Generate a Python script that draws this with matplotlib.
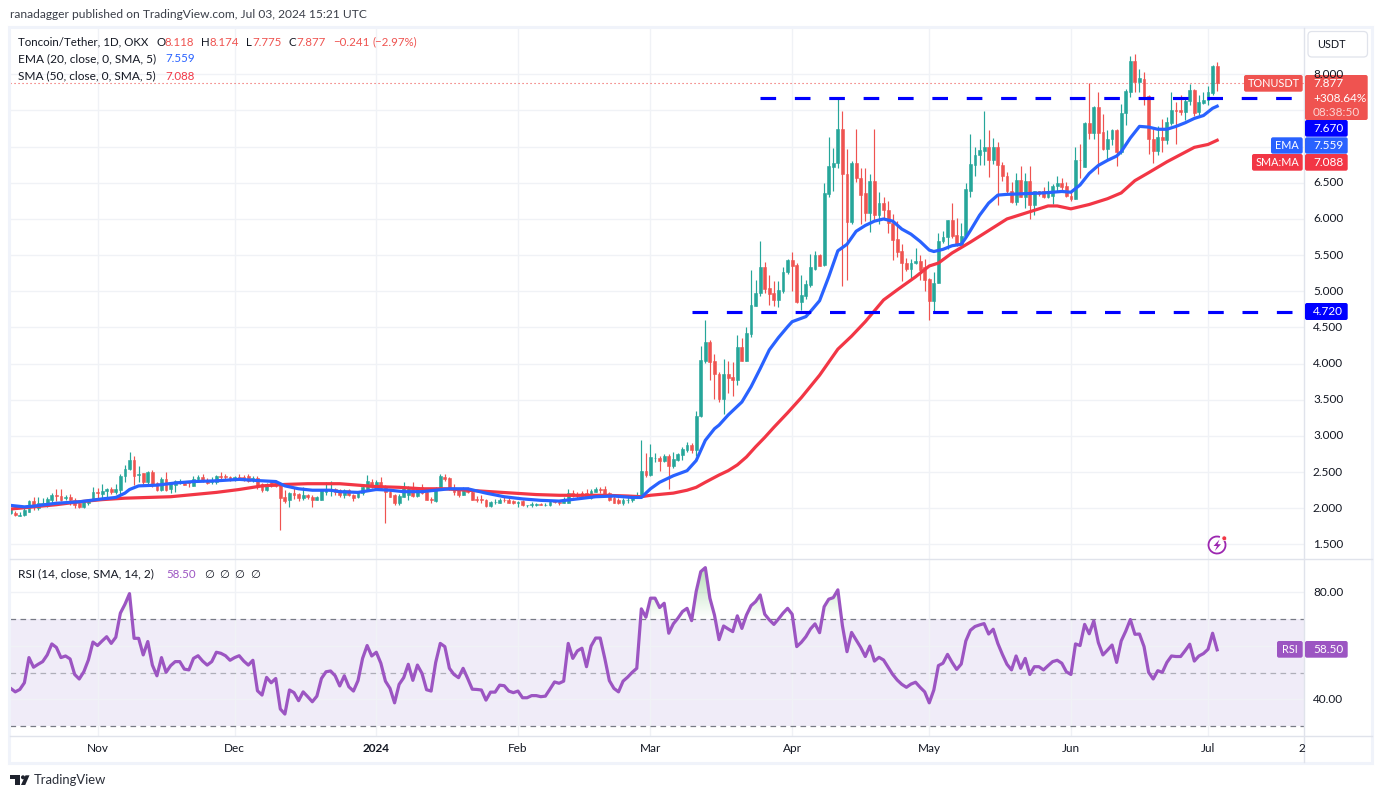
import numpy as np
import pandas as pd
import matplotlib
matplotlib.use("Agg")
import matplotlib.pyplot as plt
from matplotlib.patches import Rectangle, FancyBboxPatch, Polygon, Circle, Arc
from matplotlib.path import Path

plt.rcParams['font.family'] = ['Lato', 'DejaVu Sans']

start_date = "2023-10-13"

opens = [
1.94,1.94,1.90,1.91,1.95,2.10,2.00,2.06,2.06,2.12,
2.19,2.17,2.14,2.15,2.12,2.07,2.02,2.07,2.12,2.23,
2.20,2.24,2.26,2.23,2.25,2.44,2.54,2.67,2.46,2.49,
2.36,2.50,2.35,2.25,2.40,2.26,2.32,2.37,2.37,2.36,
2.31,2.40,2.43,2.39,2.36,2.36,2.45,2.44,2.43,2.41,
2.43,2.43,2.44,2.40,2.42,2.33,2.25,2.37,2.37,2.32,
2.16,2.11,2.21,2.20,2.14,2.18,2.16,2.12,2.12,2.22,
2.24,2.26,2.25,2.19,2.25,2.19,2.15,2.21,2.26,2.37,
2.31,2.36,2.30,2.23,2.18,2.07,2.16,2.19,2.29,2.17,
2.29,2.23,2.13,2.10,2.28,2.43,2.42,2.28,2.25,2.19,
2.28,2.23,2.13,2.13,2.12,2.03,2.09,2.08,2.12,2.12,
2.10,2.08,2.10,2.04,2.05,2.05,2.06,2.04,2.04,2.10,
2.09,2.08,2.08,2.21,2.20,2.21,2.21,2.14,2.23,2.26,
2.27,2.21,2.14,2.11,2.07,2.12,2.12,2.15,2.15,2.51,
2.46,2.69,2.70,2.66,2.73,2.58,2.67,2.74,2.81,2.87,
2.80,3.27,4.04,4.30,4.03,3.86,3.51,3.86,3.82,3.77,
4.23,4.04,4.41,4.79,4.97,5.34,5.05,4.97,4.88,5.01,
5.26,5.43,5.36,4.85,4.94,5.09,5.31,5.50,5.36,6.35,
6.72,6.77,7.25,6.62,5.96,6.78,6.57,6.36,6.08,6.52,
6.06,6.22,6.13,5.94,5.72,5.56,5.39,5.31,5.39,5.42,
5.34,5.17,4.87,5.12,5.69,5.75,5.98,5.78,5.65,5.76,
6.39,6.75,6.88,6.94,7.00,6.82,6.99,6.75,6.60,6.39,
6.24,6.54,6.30,6.53,6.19,6.38,6.38,6.30,6.32,6.46,
6.50,6.45,6.32,6.27,6.82,6.72,7.32,7.19,7.55,7.20,
6.97,7.10,7.23,6.93,7.46,7.76,8.18,7.90,7.94,7.70,
7.11,6.94,7.14,7.09,7.33,7.50,7.50,7.48,7.63,7.78,
7.48,7.61,7.64,7.74,8.118]
highs = [
2.00,1.96,1.95,2.03,2.11,2.16,2.16,2.14,2.16,2.21,
2.26,2.27,2.18,2.20,2.14,2.08,2.10,2.13,2.30,2.28,
2.33,2.28,2.29,2.33,2.48,2.60,2.78,2.72,2.58,2.49,
2.52,2.53,2.37,2.43,2.50,2.36,2.39,2.40,2.38,2.38,
2.44,2.46,2.47,2.42,2.43,2.46,2.50,2.47,2.44,2.45,
2.48,2.46,2.48,2.45,2.44,2.35,2.35,2.38,2.39,2.36,
2.25,2.22,2.28,2.21,2.30,2.20,2.18,2.17,2.27,2.37,
2.38,2.28,2.27,2.27,2.26,2.20,2.22,2.33,2.46,2.40,
2.39,2.43,2.32,2.26,2.20,2.20,2.36,2.31,2.36,2.30,
2.34,2.24,2.16,2.30,2.47,2.47,2.43,2.34,2.27,2.29,
2.29,2.24,2.17,2.18,2.13,2.10,2.13,2.14,2.16,2.14,
2.12,2.10,2.12,2.05,2.09,2.08,2.08,2.07,2.11,2.12,
2.10,2.15,2.26,2.25,2.23,2.24,2.27,2.26,2.29,2.30,
2.31,2.22,2.17,2.14,2.14,2.16,2.17,2.22,2.95,2.76,
2.89,2.76,2.73,2.75,2.75,2.78,2.76,2.85,2.91,2.90,
3.35,4.24,4.60,4.33,4.14,3.88,4.07,4.04,4.02,4.39,
4.35,4.50,5.30,5.15,5.69,5.41,5.22,5.14,5.14,5.33,
5.45,5.55,5.39,5.23,5.16,5.51,5.56,5.51,6.50,7.14,
6.98,7.68,7.49,6.97,6.80,7.25,6.70,6.70,6.62,7.25,
6.37,6.31,6.25,6.07,5.97,5.65,5.46,5.45,5.60,5.50,
5.44,5.19,5.27,5.81,5.84,5.99,6.22,6.02,5.94,6.50,
7.18,6.99,7.10,7.49,7.23,7.12,7.06,6.79,6.65,6.51,
6.63,6.73,6.63,6.73,6.39,6.39,6.44,6.52,6.49,6.60,
6.56,6.51,6.37,7.00,7.04,7.34,7.88,7.56,7.76,7.45,
7.23,7.25,7.25,7.59,7.79,8.25,8.28,8.08,8.03,7.71,
7.25,7.28,7.38,7.41,7.75,7.62,7.71,7.68,7.87,7.79,
7.71,7.76,7.84,8.13,8.174]
lows = [
1.92,1.90,1.90,1.90,1.95,1.98,1.98,2.03,2.02,2.08,
2.10,2.10,2.12,2.05,2.00,2.01,2.01,2.05,2.10,2.12,
2.12,2.16,2.20,2.20,2.20,2.37,2.53,2.32,2.37,2.33,
2.32,2.30,2.24,2.24,2.24,2.21,2.23,2.33,2.32,2.30,
2.31,2.38,2.37,2.34,2.34,2.34,2.40,2.40,2.38,2.38,
2.40,2.38,2.37,2.37,2.27,2.23,2.24,2.29,2.29,1.70,
2.08,2.02,2.13,2.10,2.12,2.13,2.02,2.11,2.12,2.18,
2.17,2.18,2.15,2.14,2.17,2.10,2.14,2.19,2.25,2.28,
2.29,2.26,1.80,2.15,2.05,2.05,2.15,2.12,2.15,2.16,
2.20,2.11,2.08,2.09,2.27,2.38,2.25,2.18,2.16,2.18,
2.21,2.11,2.09,2.08,2.02,2.02,2.06,2.07,2.09,2.07,
2.06,2.02,2.03,2.02,2.02,2.03,2.04,2.03,2.03,2.08,
2.05,2.07,2.07,2.15,2.14,2.15,2.14,2.13,2.22,2.21,
2.19,2.10,2.07,2.06,2.05,2.07,2.09,2.14,2.14,2.43,
2.45,2.64,2.51,2.64,2.27,2.56,2.66,2.67,2.78,2.76,
2.72,3.26,4.01,3.77,3.51,3.47,3.31,3.59,3.55,3.70,
4.03,4.03,4.37,4.79,4.93,4.98,4.81,4.80,4.78,4.98,
5.24,5.00,4.84,4.74,4.90,5.06,5.30,5.35,5.35,6.31,
6.38,6.71,5.07,5.16,5.93,6.51,5.93,5.97,5.82,5.97,
5.93,6.02,5.81,5.43,5.47,5.14,5.28,5.16,5.38,5.16,
5.00,4.61,4.70,5.11,5.67,5.59,5.74,5.63,5.65,5.75,
6.30,6.60,6.75,6.75,6.58,6.76,6.19,6.52,6.35,6.22,
6.19,6.30,6.15,6.00,6.05,6.32,6.29,6.29,6.20,6.39,
6.38,6.31,6.25,6.27,6.56,6.72,7.11,7.11,6.62,6.96,
6.82,7.02,6.73,6.90,7.30,7.69,7.76,7.75,7.57,6.90,
6.77,6.89,6.93,7.03,7.30,7.03,7.44,7.37,7.57,7.42,
7.44,7.59,7.57,7.71,7.775]
closes = [
1.97,1.91,1.91,1.97,2.10,2.03,2.07,2.08,2.13,2.19,
2.17,2.12,2.15,2.12,2.05,2.02,2.09,2.12,2.23,2.21,
2.24,2.27,2.22,2.27,2.45,2.55,2.67,2.45,2.47,2.36,
2.50,2.32,2.25,2.41,2.25,2.34,2.38,2.38,2.32,2.35,
2.41,2.43,2.38,2.35,2.39,2.45,2.43,2.43,2.40,2.43,
2.41,2.40,2.38,2.42,2.32,2.25,2.34,2.31,2.31,2.14,
2.10,2.21,2.18,2.14,2.18,2.15,2.12,2.15,2.25,2.25,
2.24,2.22,2.19,2.25,2.19,2.14,2.21,2.30,2.38,2.30,
2.36,2.28,2.22,2.16,2.07,2.17,2.29,2.29,2.17,2.29,
2.21,2.12,2.12,2.28,2.44,2.41,2.26,2.23,2.19,2.28,
2.22,2.12,2.12,2.12,2.03,2.09,2.09,2.12,2.11,2.08,
2.08,2.09,2.04,2.04,2.06,2.06,2.05,2.05,2.09,2.09,
2.08,2.12,2.21,2.17,2.17,2.17,2.15,2.24,2.27,2.25,
2.20,2.12,2.08,2.08,2.12,2.12,2.15,2.18,2.51,2.46,
2.71,2.70,2.66,2.73,2.58,2.68,2.75,2.82,2.87,2.80,
3.27,4.05,4.30,4.02,3.85,3.51,3.86,3.80,3.77,4.23,
4.04,4.43,4.81,4.98,5.34,5.03,4.96,4.88,5.02,5.27,
5.43,5.35,4.85,4.95,5.10,5.33,5.50,5.35,6.36,6.73,
6.78,7.25,6.62,5.96,6.78,6.57,6.33,6.08,6.52,6.06,
6.22,6.13,5.94,5.71,5.55,5.39,5.31,5.39,5.42,5.30,
5.16,4.87,5.12,5.69,5.75,5.98,5.77,5.65,5.76,6.41,
6.76,6.89,6.95,7.00,6.82,6.99,6.74,6.59,6.38,6.24,
6.54,6.30,6.53,6.19,6.38,6.35,6.30,6.39,6.46,6.50,
6.44,6.32,6.27,6.82,6.81,7.32,7.19,7.55,7.19,6.97,
7.11,7.23,6.93,7.46,7.77,8.18,7.90,7.95,7.69,7.11,
6.94,7.14,7.09,7.34,7.50,7.49,7.48,7.63,7.78,7.46,
7.62,7.65,7.75,8.12,7.877]

ema_days = [0,3,5,10,15,20,23,25,26,28,32,36,40,45,50,55,58,60,63,66,70,72,76,80,83,86,90,93,96,100,
            104,108,112,116,120,124,128,132,136,138,140,142,145,148,150,152,154,155,157,160,162,164,166,168,
            170,171,174,175,177,179,181,183,185,187,189,191,193,195,197,199,201,202,204,206,208,209,210,
            212,214,216,218,222,226,230,232,234,236,238,240,242,243,245,247,249,251,253,255,257,259,261,263,264]
ema_values = [2.04,2.02,2.03,2.07,2.09,2.13,2.15,2.21,2.26,2.31,2.32,2.35,2.37,2.38,2.40,2.38,2.37,2.31,2.27,2.25,2.25,2.23,2.22,2.26,2.25,2.23,2.23,2.25,2.27,2.27,
              2.21,2.16,2.13,2.11,2.10,2.13,2.16,2.17,2.15,2.15,2.27,2.36,2.45,2.52,2.66,2.94,3.10,3.15,3.29,3.47,3.68,3.93,4.19,4.36,
              4.51,4.58,4.65,4.72,4.87,5.20,5.56,5.65,5.83,5.91,5.97,6.00,5.97,5.86,5.79,5.69,5.57,5.55,5.58,5.63,5.65,5.74,5.84,
              6.05,6.22,6.33,6.34,6.35,6.36,6.38,6.37,6.47,6.63,6.74,6.81,6.87,6.93,7.12,7.28,7.27,7.24,7.24,7.28,7.33,7.39,7.43,7.53,7.559]

sma_days = [0,5,10,15,20,25,30,35,40,45,50,55,60,65,70,72,76,80,85,90,95,100,105,110,115,120,125,130,135,138,
            140,145,148,150,152,155,157,159,161,163,165,167,170,173,177,181,184,187,191,194,198,201,203,206,210,
            214,218,223,227,229,232,236,240,243,246,249,253,256,259,262,264]
sma_values = [1.99,2.02,2.05,2.09,2.12,2.14,2.15,2.16,2.19,2.22,2.26,2.31,2.33,2.34,2.34,2.34,2.32,2.30,2.29,2.27,2.27,2.25,2.23,2.21,2.19,2.18,2.18,2.18,2.17,2.16,
              2.18,2.21,2.25,2.29,2.36,2.46,2.52,2.60,2.71,2.85,2.98,3.12,3.32,3.53,3.84,4.20,4.38,4.58,4.88,5.02,5.20,5.35,5.39,5.53,5.68,
              5.84,6.00,6.10,6.18,6.18,6.14,6.20,6.28,6.36,6.53,6.64,6.79,6.89,6.99,7.03,7.088]

rsi = [
44.1,42.8,43.7,46.2,55.6,52.0,53.1,54.1,56.6,60.7,
59.4,55.6,56.2,55.1,49.3,47.6,50.3,54.7,61.4,60.1,
61.8,63.4,60.9,63.2,72.2,75.5,79.5,62.8,62.8,56.6,
61.6,52.8,48.8,55.6,50.1,52.6,54.1,54.1,51.3,51.0,
55.3,56.3,54.3,52.8,54.1,57.6,57.2,56.3,54.6,55.6,
56.3,54.3,52.8,54.6,43.2,41.6,48.2,46.2,47.8,36.4,
34.5,43.5,42.5,39.5,42.8,41.0,39.1,41.2,47.8,50.3,
50.6,48.8,45.0,48.8,44.7,43.1,47.0,55.3,60.1,56.2,
57.6,53.5,46.8,44.1,38.7,45.6,48.1,53.1,47.1,52.8,
49.7,43.6,43.1,53.8,60.9,59.7,51.6,49.3,48.1,51.6,
47.8,43.8,43.7,43.5,39.7,42.7,42.7,45.3,45.1,43.1,
42.5,43.1,40.6,40.6,41.4,41.4,41.0,41.2,43.8,46.5,
46.0,46.8,60.9,55.3,58.1,59.1,52.2,59.9,62.9,62.9,
55.3,47.0,44.1,42.8,46.8,48.3,50.1,51.6,73.8,70.7,
77.8,77.8,74.3,75.9,64.7,68.2,70.3,72.8,74.0,69.4,
80.3,87.7,89.2,77.8,71.5,62.3,67.4,66.3,65.3,71.2,
66.5,71.5,75.0,76.5,79.0,71.8,69.7,68.0,70.0,72.2,
74.0,71.8,59.7,61.3,63.4,66.3,68.2,64.9,74.6,77.4,
78.0,80.9,67.5,57.8,65.0,62.2,59.4,56.0,59.9,54.3,
55.7,54.7,52.0,49.3,47.2,45.6,44.5,45.7,46.4,44.5,
42.8,38.7,43.5,52.6,53.5,56.8,53.8,51.2,53.2,61.8,
65.8,67.2,67.8,68.3,64.4,66.2,60.9,56.8,53.1,51.0,
56.2,51.6,55.3,49.3,52.2,52.2,51.0,52.6,54.1,54.6,
53.5,50.3,49.3,60.7,60.1,68.0,64.5,69.3,61.2,56.6,
58.4,60.3,53.8,61.8,65.5,69.8,64.3,64.4,59.7,50.1,
47.6,50.7,50.1,53.8,56.2,56.0,56.0,58.2,60.6,54.3,
56.2,57.1,58.7,64.7,58.5]

support_levels = [7.67, 4.72]
support_start = [164, 149]
price_ticks = [1.5,2.0,2.5,3.0,3.5,4.0,4.5,5.0,5.5,6.0,6.5,7.0,7.5,8.0]
price_labels = ["1.500","2.000","2.500","3.000","3.500","4.000","4.500","5.000","5.500","6.000","6.500","","","8.000"]
rsi_ticks = [40, 60, 80]
rsi_tick_labels = ["40.00", "", "80.00"]
month_dates = ["2023-11-01","2023-12-01","2024-01-01","2024-02-01","2024-03-01","2024-04-01","2024-05-01","2024-06-01","2024-07-01"]
month_labels = ["Nov","Dec","2024","Feb","Mar","Apr","May","Jun","Jul"]
last_price = 7.877

W, H = 1382, 798
fig = plt.figure(figsize=(W/100, H/100), dpi=100, facecolor="white")

def ax_px(x0, y0, x1, y1, **kw):
    return fig.add_axes([x0/W, 1-y1/H, (x1-x0)/W, (y1-y0)/H], **kw)

GRID = "#f0f2f6"
GREEN, RED = "#26a69a", "#ef5350"
BLUE, SMAC = "#2962ff", "#f23645"
PURPLE = "#9c55c2"
TXT = "#131722"

o, h, l, c = map(np.array, (opens, highs, lows, closes))
days = np.arange(len(o))
start = pd.Timestamp(start_date)
month_pos = [(pd.Timestamp(d) - start).days for d in month_dates]

x_left, x_right = -0.15, 283.0

# price pane
ax = ax_px(10, 28, 1304, 558)
ax.set_xlim(x_left, x_right)
ax.set_ylim(1.313, 8.640)
ax.set_yticks(price_ticks)
ax.set_xticks(month_pos)
ax.grid(True, color=GRID, lw=1.0)
ax.set_axisbelow(True)
ax.tick_params(left=False, bottom=False, labelleft=False, labelbottom=False,
               right=False, labelright=False)
for s in ax.spines.values():
    s.set_visible(False)

colors = [GREEN if b >= a else RED for a, b in zip(o, c)]
ax.vlines(days, l, h, colors=colors, lw=0.85, zorder=2)
ax.bar(days, c-o, bottom=o, width=0.62, color=colors, edgecolor=colors, lw=0.4, zorder=2.1)
ax.axhline(last_price, color=RED, lw=0.8, dashes=(1, 2.6), zorder=1.9)
ax.plot(sma_days, sma_values, color=SMAC, lw=2.3, zorder=3, solid_joinstyle="round")
ax.plot(ema_days, ema_values, color=BLUE, lw=2.3, zorder=3.1, solid_joinstyle="round")
for lev, st in zip(support_levels, support_start):
    ax.plot([st, x_right], [lev, lev], color="#0000ff", lw=2.25,
            dashes=(5, 6), dash_capstyle="butt", zorder=4)

# RSI pane
ar = ax_px(10, 558, 1304, 735.5)
ar.set_xlim(x_left, x_right)
ar.set_ylim(26.5, 92.8)
ar.set_yticks(rsi_ticks)
ar.set_xticks(month_pos)
ar.grid(True, color=GRID, lw=1.0)
ar.set_axisbelow(True)
ar.tick_params(left=False, bottom=False, labelleft=False, labelbottom=False)
for s in ar.spines.values():
    s.set_visible(False)
ar.axhspan(30, 70, color="#7e57c2", alpha=0.11, lw=0, zorder=0.5)
ar.axhline(70, color="#787b86", lw=0.9, dashes=(4.5, 3.5), zorder=1)
ar.axhline(50, color="#787b86", lw=0.9, dashes=(4.5, 3.5), alpha=0.55, zorder=1)
ar.axhline(30, color="#787b86", lw=0.9, dashes=(4.5, 3.5), zorder=1)
rsi_a = np.array(rsi)
poly = ar.fill_between(days, 70, rsi_a, where=rsi_a > 70, interpolate=True, facecolor="none", lw=0)
clip = Path.make_compound_path(*poly.get_paths())
grad = np.zeros((64, 2, 4))
grad[..., :3] = matplotlib.colors.to_rgb("#4caf50")
grad[..., 3] = np.linspace(0.42, 0, 64)[:, None]
im = ar.imshow(grad, extent=[x_left, x_right, 70, 90], aspect="auto", origin="upper", zorder=1.5)
im.set_clip_path(clip, transform=ar.transData)
ar.set_xlim(x_left, x_right)
ar.set_ylim(26.5, 92.8)
ar.plot(days, rsi_a, color=PURPLE, lw=2.3, zorder=3, solid_joinstyle="round")

# overlay in pixel coordinates
ov = fig.add_axes([0, 0, 1, 1], facecolor="none")
ov.set_xlim(0, W)
ov.set_ylim(H, 0)
ov.axis("off")

BORDER = "#f0f3fa"
DIV = "#e0e3eb"
ov.add_patch(Rectangle((9.5, 26.5), 1363, 736, fill=False, ec=BORDER, lw=2.2, zorder=5))
ov.plot([1304.5, 1304.5], [28, 762], color=DIV, lw=1.0, zorder=5)
ov.plot([10, 1372], [558.5, 558.5], color=DIV, lw=1.0, zorder=5)
ov.plot([10, 1372], [735.5, 735.5], color=DIV, lw=1.0, zorder=5)

FS = 8.6    # legend text
F1 = 8.3    # first legend row
AX = 8.5    # axis labels and value tags
TAG = 7.8   # name tags
def t(x, y, s, color=TXT, size=FS, ha="left", weight="normal", z=8, **kw):
    return ov.text(x, y, s, color=color, fontsize=size, ha=ha, va="center",
                   fontweight=weight, zorder=z, **kw)

t(10, 15, "ranadagger published on TradingView.com, Jul 03, 2024 15:21 UTC", color="#3a3e48", size=8.65)
t(18, 42, "Toncoin/Tether, 1D, OKX", size=F1)
for xp, s in [(157, "O"), (201.5, "H"), (246, "L"), (289, "C")]:
    t(xp, 42, s, size=F1)
for xp, s in [(165, "8.118"), (210, "8.174"), (252.5, "7.775"), (296.5, "7.877"),
              (333, "\u22120.241"), (373, "(\u22122.97%)")]:
    t(xp, 42, s, color=RED, size=F1)
t(18, 59, "EMA (20, close, 0, SMA, 5)")
t(165.5, 59, "7.559", color=BLUE, size=F1)
t(18, 76, "SMA (50, close, 0, SMA, 5)")
t(165.5, 76, "7.088", color=SMAC, size=F1)
t(18, 574, "RSI (14, close, SMA, 14, 2)")
t(166, 574, "58.50", color=PURPLE, size=F1)
for xp in (204, 219, 234, 250):
    t(xp, 574, "\u2205", size=8.2)

# axis labels
py = lambda v: 508.3 - (v - 2) * 72.33
for v, s in zip(price_ticks, price_labels):
    if s:
        t(1313, py(v), s, size=AX)
ry = lambda v: 699.3 - (v - 40) * 2.675
for v, s in zip(rsi_ticks, rsi_tick_labels):
    if s:
        t(1313, ry(v), s, size=AX)
for mp, s in zip(month_pos, month_labels):
    t(10.7 + 4.57 * mp, 749, s, ha="center", weight="bold" if s == "2024" else "normal", size=AX)
t(1299, 749, "2", size=AX)

# tags
def box(x0, y0, x1, y1, col, r=2, z=6):
    ov.add_patch(FancyBboxPatch((x0+r, y0+r), x1-x0-2*r, y1-y0-2*r,
                                boxstyle=f"round,pad={r},rounding_size={r}",
                                fc=col, ec="none", zorder=z))

ov.add_patch(FancyBboxPatch((1311, 34.5), 53.5, 19.5, boxstyle="round,pad=3,rounding_size=4",
                            fc="white", ec=DIV, lw=0.9, zorder=6))
t(1331, 44, "USDT", ha="center", size=TAG)

box(1244, 75, 1302.7, 91.7, RED)
t(1273.5, 83.5, "TONUSDT", color="white", ha="center", size=TAG)
box(1305, 75, 1367.7, 120, RED)
t(1313, 83.5, "7.877", color="white", size=AX)
t(1313, 98, "+308.64%", color="white", size=AX)
t(1313, 112, "08:38:50", color="#fbd4d3", size=AX)
box(1305, 120, 1347.7, 136.7, "#0000ff")
t(1313, 128.5, "7.670", color="white", size=AX)
box(1271, 137.3, 1302.7, 153.7, BLUE)
t(1287, 145.5, "EMA", color="white", ha="center", size=TAG)
box(1305, 137.3, 1347.7, 153.7, BLUE)
t(1313, 145.5, "7.559", color="white", size=AX)
box(1252, 154, 1302.7, 170.7, SMAC)
t(1277.5, 162.5, "SMA:MA", color="white", ha="center", size=TAG)
box(1305, 154, 1347.7, 170.7, SMAC)
t(1313, 162.5, "7.088", color="white", size=AX)
box(1305, 303, 1347.7, 320, "#0000ff")
t(1313, 311.5, "4.720", color="white", size=AX)
box(1277, 641, 1302.7, 657.7, PURPLE)
t(1290, 649.5, "RSI", color="white", ha="center", size=TAG)
box(1305, 641, 1347.7, 657.7, PURPLE)
t(1313, 649.5, "58.50", color="white", size=AX)

# lightning badge
BADGE = "#9c27b0"
ov.add_patch(Circle((1217, 545), 8.3, fc="white", ec="none", zorder=6))
ov.add_patch(Arc((1217, 545), 17, 17, theta1=-40, theta2=290, ec=BADGE, lw=1.3, zorder=6.5))
ov.add_patch(Polygon([(1219.5, 539.5), (1213.5, 546), (1217, 546), (1214.8, 551), (1221, 544.2), (1217.6, 544.2)],
                     closed=True, fc=BADGE, ec="none", zorder=7))
ov.add_patch(Circle((1224.3, 538.3), 2.4, fc=SMAC, ec="white", lw=0.5, zorder=7))

# TradingView logo
lg = "#1e222d"
ov.add_patch(Rectangle((10, 775.3), 10, 3.6, fc=lg, ec="none", zorder=6))
ov.add_patch(Rectangle((15, 775.3), 5, 9.7, fc=lg, ec="none", zorder=6))
ov.add_patch(Circle((23, 777.3), 2, fc=lg, ec="none", zorder=6))
ov.add_patch(Polygon([(25.5, 775.3), (29.5, 775.3), (25.2, 785), (21, 785)], closed=True, fc=lg, ec="none", zorder=6))
t(33.5, 780.5, "TradingView", color="#2a2e39", size=9.4)

fig.savefig("out.png", dpi=100)
